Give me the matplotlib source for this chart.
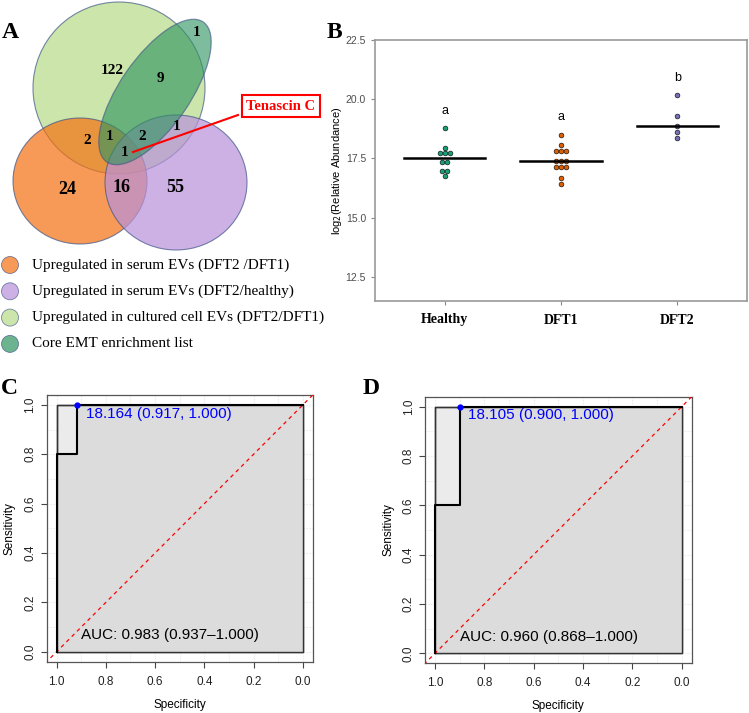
import numpy as np
import matplotlib
matplotlib.use('Agg')
import matplotlib.pyplot as plt
from matplotlib.patches import Ellipse, Circle

W, H = 749, 713
SERIF = ['Liberation Serif', 'DejaVu Serif']
SANS = ['Liberation Sans', 'DejaVu Sans']
plt.rcParams['font.family'] = SANS

# ---- data ----
# panel A: venn region counts
venn_counts = [122, 9, 1, 2, 1, 2, 1, 1, 24, 16, 55]
venn_big = [False] * 8 + [True] * 3
legend_labels = ['Upregulated in serum EVs (DFT2 /DFT1)',
                 'Upregulated in serum EVs (DFT2/healthy)',
                 'Upregulated in cultured cell EVs (DFT2/DFT1)',
                 'Core EMT enrichment list']
set_colors = ['#F57010', '#B991DB', '#B6DB86', '#2E9460']
callout = 'Tenascin C'

# panel B: log2 relative abundance
groups = ['Healthy', 'DFT1', 'DFT2']
healthy = [18.77, 17.92, 17.71, 17.71, 17.71, 17.33, 17.33, 16.99, 16.99, 16.74]
dft1 = [18.50, 18.05, 17.80, 17.80, 17.80, 17.40, 17.40, 17.40,
        17.13, 17.13, 17.13, 16.68, 16.43]
dft2 = [20.16, 19.31, 18.86, 18.60, 18.35]
group_colors = ['#1B9E77', '#D95F02', '#7570B3']
sig_letters = ['a', 'a', 'b']

# panels C, D: ROC curves
roc_c_spec = [1, 1, 0.917, 0.917, 0]
roc_c_sens = [0, 0.8, 0.8, 1, 1]
roc_c_best = (18.164, 0.917, 1.000)
roc_c_auc = (0.983, 0.937, 1.000)

roc_d_spec = [1, 1, 0.9, 0.9, 0]
roc_d_sens = [0, 0.6, 0.6, 1, 1]
roc_d_best = (18.105, 0.900, 1.000)
roc_d_auc = (0.960, 0.868, 1.000)


def px_axes(fig, left, top, right, bottom):
    # axes placed by pixel box
    return fig.add_axes([left / W, 1 - bottom / H, (right - left) / W, (bottom - top) / H])


fig = plt.figure(figsize=(W / 100, H / 100), dpi=100)

# ---------------- panel A ----------------
axA = px_axes(fig, 0, 0, 360, 360)
axA.set_xlim(0, 360)
axA.set_ylim(360, 0)
axA.axis('off')

edge = '#3F5588'
axA.add_patch(Ellipse((119, 88), 172, 172, fc=set_colors[2], ec=edge, lw=0.8, alpha=0.7))
axA.add_patch(Ellipse((80, 181), 134, 126, fc=set_colors[0], ec=edge, lw=0.8, alpha=0.7))
axA.add_patch(Ellipse((176, 182.5), 142, 135, fc=set_colors[1], ec=edge, lw=0.8, alpha=0.7))
axA.add_patch(Ellipse((155, 92), 170, 70, angle=-55.4, fc=set_colors[3], ec=edge, lw=0.9, alpha=0.62))

count_pos = [(112, 70), (160, 79), (197, 33), (87, 141), (110, 137), (142, 136),
             (177, 127), (125, 153), (67, 190), (122, 188), (175, 187)]
for n, big, (x, y) in zip(venn_counts, venn_big, count_pos):
    axA.text(x, y, str(n), ha='center', va='center', family=SERIF,
             fontweight='bold', fontsize=13 if big else 11)

axA.plot([133, 238], [152, 115], color='red', lw=1.5)
axA.text(281, 106, callout, ha='center', va='center', family=SERIF, fontweight='bold',
         fontsize=10.5, color='red',
         bbox=dict(boxstyle='square,pad=0.3', fc='white', ec='red', lw=1.5))

for i, (lab, c) in enumerate(zip(legend_labels, set_colors)):
    y = 265 + i * 26.3
    axA.add_patch(Circle((10, y), 8.5, fc=c, ec=edge, lw=0.6, alpha=0.7))
    axA.text(32, y, lab, ha='left', va='center', family=SERIF, fontsize=11)

fig.text(10 / W, 1 - 32 / H, 'A', family=SERIF, fontweight='bold', fontsize=17,
         ha='center', va='center')

# ---------------- panel B ----------------
axB = px_axes(fig, 375, 40, 747, 301)
step = 0.043
for gi, (vals, c) in enumerate(zip([healthy, dft1, dft2], group_colors)):
    xpos = gi + 1
    uniq = []
    for v in vals:
        if v not in uniq:
            uniq.append(v)
    for v in uniq:
        k = vals.count(v)
        xs = xpos + (np.arange(k) - (k - 1) / 2) * step
        axB.scatter(xs, [v] * k, s=12, color=c, edgecolor='black', linewidth=0.4, zorder=3)
    med = np.median(vals)
    axB.plot([xpos - 0.35, xpos + 0.35], [med, med], color='black', lw=1.8, zorder=4)
    axB.text(xpos, max(vals) + 0.75, sig_letters[gi], ha='center', va='center', fontsize=9)

axB.set_xlim(0.4, 3.6)
axB.set_ylim(11.48, 22.5)
axB.set_xticks([1, 2, 3])
axB.set_xticklabels(groups, family=SERIF, fontweight='bold', fontsize=10)
axB.set_yticks([12.5, 15.0, 17.5, 20.0, 22.5])
axB.set_yticklabels(['12.5', '15.0', '17.5', '20.0', '22.5'])
axB.tick_params(axis='y', labelsize=7.5, labelcolor='#4D4D4D', color='#888888', length=3)
axB.tick_params(axis='x', color='#888888', length=3, pad=6)
for sp in axB.spines.values():
    sp.set_color('#999999')
    sp.set_linewidth(1.2)
axB.set_ylabel(r'log$_2$(Relative Abundance)', fontsize=8, labelpad=1)

fig.text(334 / W, 1 - 32 / H, 'B', family=SERIF, fontweight='bold', fontsize=17,
         ha='center', va='center')


# ---------------- panels C, D ----------------
def draw_roc(ax, spec, sens, best, auc):
    ax.set_xlim(1.04, -0.04)
    ax.set_ylim(-0.04, 1.04)
    grid_t = np.arange(0, 1.01, 0.1)
    for g in grid_t:
        ax.axvline(g, color='#E4E4E4', ls=':', lw=0.8, zorder=0)
        ax.axhline(g, color='#E4E4E4', ls=':', lw=0.8, zorder=0)
    # max AUC square and area under curve
    sx = [max(spec), max(spec), min(spec), min(spec)]
    sy = [min(sens), max(sens), max(sens), min(sens)]
    ax.fill(sx, sy, fc='#EBEBEB', ec='#333333', lw=1.0, zorder=1)
    ax.fill(list(spec) + [min(spec)], list(sens) + [min(sens)], fc='#DCDCDC',
            ec='none', zorder=2)
    ax.plot(sx + [sx[0]], sy + [sy[0]], color='#333333', lw=1.0, zorder=3)
    ax.axline((1, 0), (0, 1), color='red', ls=(0, (3, 3)), lw=0.9, zorder=4)
    ax.plot(spec, sens, color='black', lw=1.5, zorder=5)
    thr, bs, bse = best
    ax.plot([bs], [bse], 'o', color='blue', ms=3.5, zorder=6)
    ax.text(bs - 0.035, bse - 0.035, f'{thr:.3f} ({bs:.3f}, {bse:.3f})', color='blue',
            fontsize=11, ha='left', va='center', zorder=6)
    a, lo, hi = auc
    ax.text(0.9, 0.068, f'AUC: {a:.3f} ({lo:.3f}\u2013{hi:.3f})', fontsize=11,
            ha='left', va='center', zorder=6)
    ticks = [1.0, 0.8, 0.6, 0.4, 0.2, 0.0]
    ax.set_xticks(ticks)
    ax.set_xticklabels([f'{t:.1f}' for t in ticks])
    ax.set_yticks(ticks)
    ax.set_yticklabels([f'{t:.1f}' for t in ticks], rotation=90, va='center')
    ax.tick_params(labelsize=8.5, labelcolor='#222222', color='#444444', length=4, width=0.8)
    ax.tick_params(axis='x', pad=6)
    for sp in ax.spines.values():
        sp.set_color('#555555')
        sp.set_linewidth(0.9)
    ax.set_xlabel('Specificity', fontsize=8.5, labelpad=8)
    ax.set_ylabel('Sensitivity', fontsize=8.5, labelpad=6)


axC = px_axes(fig, 46.7, 395, 312.7, 661.7)
draw_roc(axC, roc_c_spec, roc_c_sens, roc_c_best, roc_c_auc)
axD = px_axes(fig, 425, 396.7, 691.7, 663.3)
draw_roc(axD, roc_d_spec, roc_d_sens, roc_d_best, roc_d_auc)

fig.text(9 / W, 1 - 389 / H, 'C', family=SERIF, fontweight='bold', fontsize=17,
         ha='center', va='center')
fig.text(371 / W, 1 - 389 / H, 'D', family=SERIF, fontweight='bold', fontsize=17,
         ha='center', va='center')

fig.savefig('out.png', dpi=100)
